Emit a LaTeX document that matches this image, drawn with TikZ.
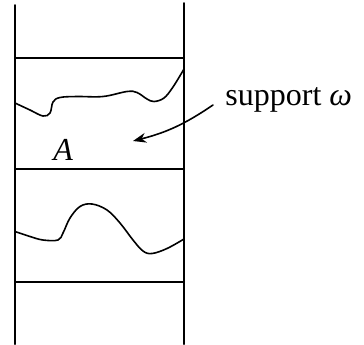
\documentclass[tikz,border=0pt]{standalone}
\usepackage{fontspec}
\setmainfont{Liberation Serif}
\usetikzlibrary{arrows.meta}

\begin{document}
\begin{tikzpicture}[x=0.5pt,y=-0.5pt,>=Stealth,line cap=round,
    wall/.style={line width=1pt},
    wave/.style={line width=0.8pt,smooth,tension=0.6},
    lbl/.style={font=\fontsize{16}{19}\selectfont,inner sep=0pt}]
    \useasboundingbox (0,0) rectangle (364,344);
    % the two walls and the three cuts
    \draw[wall] (15,5) -- (15,344);
    \draw[wall] (184,3) -- (184,344);
    \foreach \yy in {58,169,282}
      \draw[wall] (15,\yy) -- (184,\yy);
    % boundaries inside the cells
    \draw[wave] plot coordinates {(15,103) (30,110) (43,116) (50,113) (53,102) (60,97.5) (77,96.5) (103,96.5) (127,91.5) (137,92.5) (147,99) (154,101.5) (164,98) (173,87) (184,69)};
    \draw[wave] plot coordinates {(15,231.5) (30,236.5) (43,240) (58,240) (63,233) (70,218) (80,206.5) (92,204) (107,210) (120,223) (133,240) (143,251) (152,253.5) (167,248.5) (184,239)};
    \node[lbl,anchor=base west] (cellA) at (53,160) {\textit{A}};
    \node[lbl,anchor=base west,inner xsep=6pt] (supp) at (213,105) {support \textit{ω}};
    \coordinate (tip) at (133,141);
    \draw[->,line width=0.8pt] (supp.base west) to[bend left=10] (tip);
  \end{tikzpicture}
\end{document}
